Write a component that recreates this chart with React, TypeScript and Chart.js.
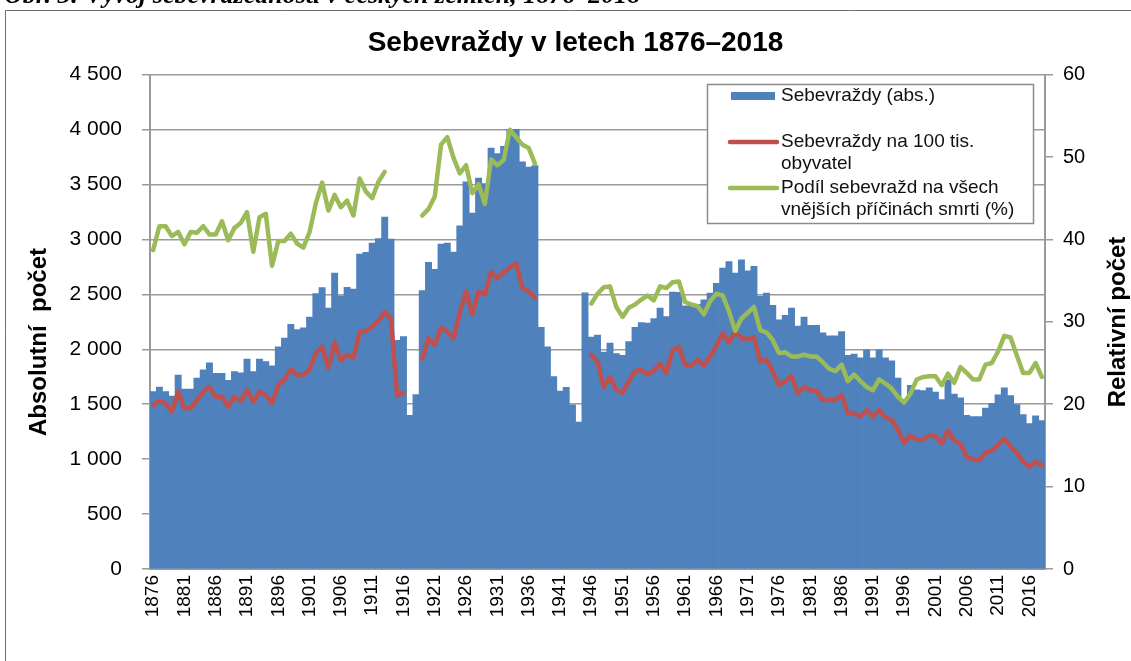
import React, { useEffect, useRef } from "react";
import { Chart, registerables } from "chart.js";

Chart.register(...registerables);

const START_YEAR = 1876;
const END_YEAR = 2018;
const years: string[] = Array.from({ length: END_YEAR - START_YEAR + 1 }, (_, i) => String(START_YEAR + i));

// Sebevraždy (abs.)
const suicidesAbs: number[] = [
  1615, 1655, 1615, 1573, 1765, 1637, 1637, 1737, 1813, 1877,
  1780, 1780, 1718, 1798, 1786, 1910, 1798, 1910, 1889, 1849,
  2022, 2101, 2226, 2180, 2195, 2293, 2506, 2562, 2374, 2693,
  2487, 2564, 2548, 2867, 2883, 2967, 3008, 3203, 3003, 2082,
  2116, 1398, 1588, 2535, 2792, 2727, 2958, 2967, 2885, 3124,
  3524, 3240, 3559, 3508, 3832, 3782, 3847, 4002, 4002, 3705,
  3659, 3671, 2200, 2022, 1752, 1620, 1654, 1494, 1338, 2514,
  2110, 2130, 1975, 2056, 1960, 1945, 2071, 2200, 2244, 2238,
  2280, 2374, 2298, 2520, 2518, 2395, 2415, 2410, 2450, 2511,
  2600, 2739, 2799, 2693, 2815, 2713, 2754, 2485, 2511, 2400,
  2268, 2310, 2374, 2210, 2293, 2218, 2218, 2150, 2122, 2122,
  2162, 1945, 1956, 1922, 1995, 1922, 1995, 1922, 1895, 1737,
  1516, 1671, 1630, 1623, 1650, 1610, 1543, 1722, 1592, 1558,
  1398, 1388, 1388, 1464, 1509, 1585, 1650, 1578, 1497, 1406,
  1324, 1394, 1350,
];

// Sebevraždy na 100 tis. obyvatel
const suicidesPer100k: (number | null)[] = [
  19.9, 20.4, 20.1, 19.1, 21.5, 19.5, 19.5, 20.5, 21.5, 22.1,
  20.9, 20.9, 19.7, 20.9, 20.4, 21.7, 20.3, 21.5, 21.1, 20.1,
  22.3, 23.0, 24.2, 23.6, 23.5, 24.2, 26.2, 27.0, 24.4, 27.5,
  25.3, 26.0, 25.6, 28.7, 28.9, 29.4, 30.1, 31.2, 30.4, 21.0,
  21.4, null, null, 25.5, 28.0, 27.2, 29.3, 28.8, 28.0, 31.1,
  33.7, 30.9, 33.7, 33.3, 36.0, 35.3, 36.0, 36.6, 37.1, 34.1,
  33.7, 32.9, null, null, null, null, null, null, null, null,
  26.0, 25.2, 22.1, 23.3, 21.8, 21.4, 22.8, 24.0, 24.2, 23.6,
  24.1, 24.9, 23.8, 26.5, 27.0, 24.8, 24.7, 25.4, 24.7, 25.8,
  27.1, 28.6, 27.5, 28.8, 28.0, 27.9, 28.1, 25.2, 25.4, 24.0,
  22.3, 22.8, 23.4, 21.3, 22.1, 21.7, 21.6, 20.5, 20.5, 20.5,
  21.1, 18.9, 18.9, 18.5, 19.3, 18.5, 19.3, 18.4, 18.1, 16.9,
  15.3, 16.2, 15.7, 15.7, 16.2, 16.1, 15.2, 16.8, 15.6, 15.2,
  13.6, 13.3, 13.2, 14.1, 14.4, 15.1, 15.8, 14.9, 14.1, 13.0,
  12.4, 13.0, 12.6,
];

// Podíl sebevražd na všech vnějších příčinách smrti (%)
const shareExternal: (number | null)[] = [
  38.7, 41.6, 41.6, 40.4, 40.9, 39.4, 40.9, 40.8, 41.6, 40.6,
  40.6, 42.2, 39.9, 41.4, 42.0, 43.3, 38.5, 42.7, 43.1, 36.8,
  39.8, 39.8, 40.7, 39.5, 39.0, 40.9, 44.4, 46.9, 43.5, 45.4,
  43.9, 44.7, 42.9, 47.4, 45.8, 45.0, 47.0, 48.2, null, null,
  null, null, null, 42.9, 43.7, 45.2, 51.5, 52.4, 49.9, 48.0,
  49.0, 45.6, 46.7, 44.3, 49.7, 49.0, 49.6, 53.3, 52.4, 51.5,
  51.1, 49.2, null, null, null, null, null, null, null, null,
  32.2, 33.4, 34.2, 34.3, 31.8, 30.6, 31.7, 32.1, 32.7, 33.2,
  32.6, 34.3, 34.1, 34.8, 34.9, 32.4, 32.1, 31.9, 30.9, 32.5,
  33.4, 33.2, 31.3, 28.9, 30.4, 31.1, 31.8, 29.0, 28.7, 27.8,
  26.2, 26.3, 25.8, 25.8, 26.0, 25.8, 25.8, 25.1, 24.3, 24.0,
  24.8, 22.8, 23.6, 22.8, 22.1, 21.7, 23.0, 22.5, 21.9, 20.9,
  20.2, 21.3, 23.0, 23.3, 23.4, 23.4, 22.3, 23.7, 22.6, 24.5,
  23.8, 23.0, 23.0, 24.8, 25.0, 26.4, 28.3, 28.1, 25.9, 23.8,
  23.8, 25.0, 23.3,
];

const leftAxisRange = [0, 4500];
const leftAxisStep = 500;
const rightAxisRange = [0, 60];
const rightAxisStep = 10;
const xLabelEvery = 5;

const CAPTION = "Obr. 3: Vývoj sebevražednosti v českých zemích, 1876–2018";
const TITLE = "Sebevraždy v letech 1876–2018";
const LEFT_AXIS_TITLE = "Absolutní  počet";
const RIGHT_AXIS_TITLE = "Relativní počet";
const seriesLabels = [
  "Sebevraždy (abs.)",
  "Sebevraždy na 100 tis. obyvatel",
  "Podíl sebevražd na všech vnějších příčinách smrti (%)",
];
const legendLines: string[][] = [
  ["Sebevraždy (abs.)"],
  ["Sebevraždy na 100 tis.", "obyvatel"],
  ["Podíl sebevražd na všech", "vnějších příčinách smrti (%)"],
];

const BLUE = "#4F81BD";
const RED = "#C0504D";
const GREEN = "#9BBB59";
const GRID = "#9a9a9a";
const FONT = '"Liberation Sans", Arial, sans-serif';

const fmtThousands = (v: number) => String(v).replace(/\B(?=(\d{3})+(?!\d))/g, " ");

const framePlugin = {
  id: "frameAndCaption",
  beforeDraw(chart: any) {
    const ctx = chart.ctx;
    ctx.save();
    ctx.fillStyle = "#fff";
    ctx.fillRect(0, 0, chart.width, chart.height);
    ctx.font = `italic bold 26px "Liberation Serif", "Times New Roman", serif`;
    ctx.fillStyle = "#000";
    ctx.textBaseline = "alphabetic";
    ctx.textAlign = "left";
    ctx.fillText(CAPTION, 4, 3);
    ctx.strokeStyle = "#6e6e6e";
    ctx.lineWidth = 1;
    ctx.beginPath();
    ctx.moveTo(5.5, chart.height);
    ctx.lineTo(5.5, 10.5);
    ctx.lineTo(chart.width, 10.5);
    ctx.stroke();
    ctx.restore();
  },
};

const axisTitlePlugin = {
  id: "axisTitles",
  afterDraw(chart: any) {
    const ctx = chart.ctx;
    const draw = (text: string, x: number, y: number) => {
      ctx.save();
      ctx.fillStyle = "#000";
      ctx.font = `bold 24px ${FONT}`;
      ctx.textAlign = "center";
      ctx.textBaseline = "middle";
      ctx.translate(x, y);
      ctx.rotate(-Math.PI / 2);
      ctx.fillText(text, 0, 0);
      ctx.restore();
    };
    draw(LEFT_AXIS_TITLE, 39, 342);
    draw(RIGHT_AXIS_TITLE, 1118, 322);
  },
};

const legendPlugin = {
  id: "boxLegend",
  afterDraw(chart: any) {
    const ctx = chart.ctx;
    const bx = 707, by = 84, bw = 326, bh = 139;
    ctx.save();
    ctx.fillStyle = "#fff";
    ctx.fillRect(bx, by, bw, bh);
    ctx.strokeStyle = "#8c8c8c";
    ctx.lineWidth = 1.5;
    ctx.strokeRect(bx + 0.5, by + 0.5, bw, bh);
    const colors = chart.data.datasets.map((d: any) => d.borderColor || d.backgroundColor);
    ctx.font = `19px ${FONT}`;
    ctx.textBaseline = "middle";
    ctx.textAlign = "left";
    legendLines.forEach((lines, i) => {
      const y = by + 12 + 46 * i;
      if (i === 0) {
        ctx.fillStyle = chart.data.datasets[0].backgroundColor;
        ctx.fillRect(bx + 24, y - 4, 44, 8);
      } else {
        ctx.strokeStyle = colors[i];
        ctx.lineWidth = 4.5;
        ctx.lineCap = "round";
        ctx.beginPath();
        ctx.moveTo(bx + 23, y);
        ctx.lineTo(bx + 70, y);
        ctx.stroke();
      }
      ctx.fillStyle = "#111";
      lines.forEach((t, j) => ctx.fillText(t, bx + 74, y + j * 22));
    });
    ctx.restore();
  },
};

export default function App() {
  const ref = useRef<HTMLCanvasElement>(null);
  useEffect(() => {
    if (!ref.current) return;
    const chart = new Chart(ref.current, {
      type: "bar",
      data: {
        labels: years,
        datasets: [
          {
            type: "bar",
            label: seriesLabels[0],
            data: suicidesAbs,
            backgroundColor: BLUE,
            borderWidth: 0,
            barPercentage: 1,
            categoryPercentage: 1,
            yAxisID: "y",
            order: 3,
          } as any,
          {
            type: "line",
            label: seriesLabels[1],
            data: suicidesPer100k,
            borderColor: RED,
            backgroundColor: RED,
            borderWidth: 4.5,
            pointRadius: 0,
            tension: 0,
            spanGaps: false,
            borderJoinStyle: "round",
            borderCapStyle: "round",
            yAxisID: "y1",
            order: 2,
          } as any,
          {
            type: "line",
            label: seriesLabels[2],
            data: shareExternal,
            borderColor: GREEN,
            backgroundColor: GREEN,
            borderWidth: 4.5,
            pointRadius: 0,
            tension: 0,
            spanGaps: false,
            borderJoinStyle: "round",
            borderCapStyle: "round",
            yAxisID: "y1",
            order: 1,
          } as any,
        ],
      },
      options: {
        responsive: false,
        animation: false,
        layout: { padding: { top: 10, left: 20, right: 0, bottom: 0 } },
        plugins: {
          legend: { display: false },
          tooltip: { enabled: false },
          title: {
            display: true,
            text: TITLE,
            color: "#000",
            font: { family: FONT, size: 28, weight: "bold" },
            padding: { top: 16, bottom: 15 },
          },
        },
        scales: {
          x: {
            type: "category",
            offset: true,
            grid: { display: true, drawOnChartArea: false, drawTicks: false },
            border: { display: true, color: GRID, width: 2 },
            ticks: {
              autoSkip: false,
              maxRotation: 90,
              minRotation: 90,
              padding: 6,
              color: "#000",
              font: { family: FONT, size: 19 },
              callback: (_v: any, i: number) => (i % xLabelEvery === 0 ? years[i] : ""),
            },
            afterFit: (s: any) => {
              s.height = 92;
            },
          },
          y: {
            position: "left",
            min: leftAxisRange[0],
            max: leftAxisRange[1],
            ticks: {
              stepSize: leftAxisStep,
              padding: 20,
              color: "#000",
              font: { family: FONT, size: 21 },
              callback: (v: any) => fmtThousands(Number(v)),
            },
            grid: { color: GRID, lineWidth: 1.5, drawTicks: true, tickLength: 8, tickColor: GRID },
            border: { display: true, color: GRID, width: 2 },
            afterFit: (s: any) => {
              s.width = 130;
            },
          },
          y1: {
            position: "right",
            min: rightAxisRange[0],
            max: rightAxisRange[1],
            ticks: {
              stepSize: rightAxisStep,
              padding: 10,
              color: "#000",
              font: { family: FONT, size: 20 },
            },
            grid: { drawOnChartArea: false, drawTicks: true, tickLength: 8, color: GRID, lineWidth: 1.5 },
            border: { display: true, color: GRID, width: 2 },
            afterFit: (s: any) => {
              s.width = 86;
            },
          },
        },
      } as any,
      plugins: [framePlugin, axisTitlePlugin, legendPlugin],
    });
    return () => chart.destroy();
  }, []);
  return (
    <div style={{ position: "absolute", left: 0, top: 0, width: 1131, height: 661, overflow: "hidden", background: "#fff" }}>
      <canvas ref={ref} width={1131} height={661} style={{ display: "block", width: 1131, height: 661 }} />
    </div>
  );
}
